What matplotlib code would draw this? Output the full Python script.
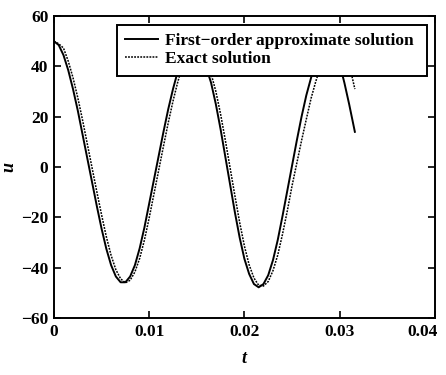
import matplotlib
matplotlib.use("Agg")
from matplotlib import pyplot as plt
from matplotlib.transforms import ScaledTranslation

# values
t_approx = [0.0, 0.0005, 0.001, 0.0015, 0.002, 0.0025, 0.003, 0.0035, 0.004, 0.0045,
            0.005, 0.0055, 0.006, 0.0065, 0.007, 0.0075, 0.008, 0.0085, 0.009, 0.0095,
            0.01, 0.0105, 0.011, 0.0115, 0.012, 0.0125, 0.013, 0.0135, 0.014, 0.0145,
            0.015, 0.0155, 0.016, 0.0165, 0.017, 0.0175, 0.018, 0.0185, 0.019, 0.0195,
            0.02, 0.0205, 0.021, 0.0215, 0.022, 0.0225, 0.023, 0.0235, 0.024, 0.0245,
            0.025, 0.0255, 0.026, 0.0265, 0.027, 0.0275, 0.028, 0.0285, 0.029, 0.0295,
            0.03, 0.0305, 0.031, 0.0316]
u_approx = [50, 48.5, 44.5, 38.5, 31, 22.5, 13, 3.5, -6, -15.5,
            -24.5, -32.5, -39, -43.5, -45.8, -45.8, -43.5, -39, -32.3, -24,
            -14.5, -5, 4.5, 14, 23, 31, 38, 43.5, 47, 48.5,
            47, 44, 39.5, 33.5, 25, 15, 4, -7, -18, -28,
            -36.5, -42.5, -46.5, -47.8, -46.5, -43, -37, -29, -19.5, -9.5,
            0.5, 10.5, 20, 28.5, 35.5, 41.5, 46, 48.5, 48.5, 46,
            41, 33.5, 25, 14]

t_exact = t_approx
u_exact = [50, 49, 47.3, 42.1, 35.5, 27.6, 18.7, 9.2, -0.3, -9.8,
           -19, -27.7, -35.1, -40.8, -44.4, -46, -45, -41.7, -36.3, -29,
           -20.2, -10.7, -1.2, 8.3, 17.6, 26.2, 33.8, 40.2, 44.9, 47.2,
           47.9, 45.8, 42.2, 37.1, 30.1, 21, 10.6, -0.4, -11.4, -22,
           -31.4, -38.9, -44.1, -47, -47.3, -45.5, -41.2, -35, -26.7, -17.5,
           -7.5, 1.5, 10.5, 19, 27.3, 34.1, 40, 44.2, 47.3, 48.5,
           48, 45.5, 41, 31]

x_ticks = [0, 0.01, 0.02, 0.03, 0.04]
x_labels = ["0", "0.01", "0.02", "0.03", "0.04"]
y_ticks = [-60, -40, -20, 0, 20, 40, 60]

plt.rcParams['font.family'] = ['Liberation Serif', 'DejaVu Serif']
plt.rcParams['font.weight'] = 'bold'

fig = plt.figure(figsize=(4.46, 3.75), dpi=100)
ax = fig.add_axes([0.121, 0.152, 0.854, 0.805])

ax.plot(t_approx, u_approx, color='black', lw=1.4,
        label='First\u2212order approximate solution')
ax.plot(t_exact, u_exact, color='black', lw=1.1, linestyle=(0, (1.2, 0.8)),
        label='Exact solution')

ax.set_xlim(0, 0.04)
ax.set_ylim(-60, 60)
ax.set_xticks(x_ticks)
ax.set_xticklabels(x_labels)
ax.set_yticks(y_ticks)
ax.set_yticklabels([str(v).replace('-', '\u2212') for v in y_ticks])
ax.tick_params(direction='in', top=True, right=True, length=5, width=1.2,
               labelsize=12.5, pad=4)
for s in ax.spines.values():
    s.set_linewidth(1.4)

# last x label sits a little left of its tick, as in the original
last = ax.get_xticklabels()[-1]
last.set_transform(last.get_transform() + ScaledTranslation(-0.12, 0, fig.dpi_scale_trans))

ax.set_xlabel('t', fontsize=13, style='italic', fontweight='bold')
ax.set_ylabel('u', fontsize=13, style='italic', fontweight='bold')
ax.xaxis.set_label_coords(0.5, -0.105)
ax.yaxis.set_label_coords(-0.095, 0.5)

leg = ax.legend(loc='upper left', bbox_to_anchor=(0.165, 0.5, 0.814, 0.472),
                mode='expand', fontsize=12.5,
                frameon=True, fancybox=False, framealpha=1, edgecolor='black',
                handlelength=1.9, borderpad=0.5, labelspacing=0.1,
                handletextpad=0.4, borderaxespad=0)
leg.get_frame().set_linewidth(1.4)

fig.savefig('out.png', dpi=100)
